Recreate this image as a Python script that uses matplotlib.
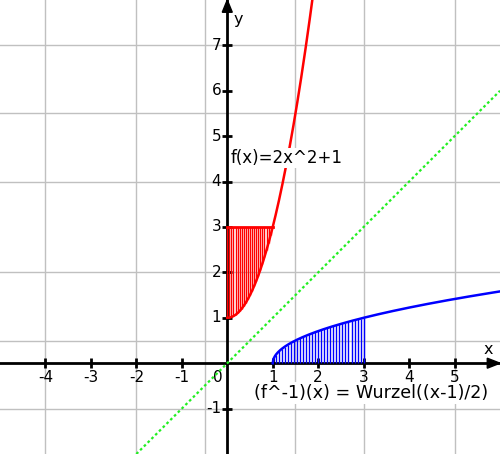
import numpy as np
import matplotlib
matplotlib.use("Agg")
import matplotlib.pyplot as plt
from matplotlib.patches import Polygon

# ---- data ----
x_ticks = [-4, -3, -2, -1, 1, 2, 3, 4, 5]
x_tick_labels = ["-4", "-3", "-2", "-1", "1", "2", "3", "4", "5"]
y_ticks = [-1, 1, 2, 3, 4, 5, 6, 7]
y_tick_labels = ["-1", "1", "2", "3", "4", "5", "6", "7"]
x_grid = [-4, -2, -0.5, 1.5, 3, 5]
y_grid = [-1, 0.5, 2, 4, 5.5, 7]

f_coef = [2, 1]            # f(x) = 2x^2 + 1
f_domain = [0, 1.87]
f_hatch_range = [0, 1]
f_hatch_top = 3
f_hatch_count = 23

g_domain = [1, 6]          # g(x) = sqrt((x-1)/2)
g_hatch_range = [1, 3]
g_hatch_count = 31

diag_range = [-2, 6]

f_label = "f(x)=2x^2+1"
g_label = "(f^-1)(x) = Wurzel((x-1)/2)"

def f(x):
    return f_coef[0] * np.asarray(x) ** 2 + f_coef[1]

def g(x):
    return np.sqrt((np.asarray(x) - 1) / 2)

fig = plt.figure(figsize=(5.0, 4.54), dpi=100)
ax = fig.add_axes([0, 0, 1, 1])
ax.set_xlim(-5, 6)
ax.set_ylim(-2, 8)
ax.axis("off")

grid_col = "#c0c0c0"
for gx in x_grid:
    ax.axvline(gx, color=grid_col, lw=1.0, zorder=1)
for gy in y_grid:
    ax.axhline(gy, color=grid_col, lw=1.0, zorder=1)

# axes
ax.axhline(0, color="black", lw=2.0, zorder=3)
ax.axvline(0, color="black", lw=2.0, zorder=3)
ax.add_patch(Polygon([[6.0, 0], [5.72, 0.11], [5.72, -0.11]], closed=True,
                     color="black", zorder=4))
ax.add_patch(Polygon([[0, 8.0], [0.11, 7.73], [-0.11, 7.73]], closed=True,
                     color="black", zorder=4))
ax.plot(x_ticks, np.zeros(len(x_ticks)), ls="none", marker="|", ms=7,
        mew=2, color="black", zorder=4)
ax.plot(np.zeros(len(y_ticks)), y_ticks, ls="none", marker="_", ms=7,
        mew=2, color="black", zorder=4)

tick_fs = 11
for xv, lab in zip(x_ticks, x_tick_labels):
    ax.text(xv, -0.31, lab, ha="center", va="center", fontsize=tick_fs, zorder=2)
ax.text(-0.21, -0.31, "0", ha="center", va="center", fontsize=tick_fs, zorder=2)
for yv, lab in zip(y_ticks, y_tick_labels):
    ax.text(-0.13, yv, lab, ha="right", va="center", fontsize=tick_fs, zorder=2)

ax.text(5.75, 0.3, "x", ha="center", va="center", fontsize=11.5)
ax.text(0.25, 7.58, "y", ha="center", va="center", fontsize=11.5)

# green diagonal y = x
xd = np.array(diag_range)
ax.plot(xd, xd, color="#22ee22", lw=1.6, ls=(0, (1.2, 1.2)), zorder=5)

# red function and hatch
xf = np.linspace(f_domain[0], f_domain[1], 200)
ax.plot(xf, f(xf), color="red", lw=1.8, zorder=5)
xh = np.linspace(f_hatch_range[0], f_hatch_range[1], f_hatch_count)
ax.vlines(xh, f(xh), f_hatch_top, color="red", lw=1.0, zorder=5)
ax.plot(f_hatch_range, [f_hatch_top, f_hatch_top], color="red", lw=2.0, zorder=5)

# blue inverse function and hatch
xg = np.linspace(g_domain[0], g_domain[1], 400)
ax.plot(xg, g(xg), color="blue", lw=1.8, zorder=5)
xgh = np.linspace(g_hatch_range[0], g_hatch_range[1], g_hatch_count)
ax.vlines(xgh, 0, g(xgh), color="blue", lw=1.0, zorder=5)

ax.text(0.07, 4.52, f_label, ha="left", va="center", fontsize=12, zorder=6,
        bbox=dict(facecolor="white", edgecolor="none", pad=0.5))
ax.text(0.58, -0.66, g_label, ha="left", va="center", fontsize=12.6, zorder=6,
        bbox=dict(facecolor="white", edgecolor="none", pad=1.5))

fig.savefig("out.png", dpi=100)
